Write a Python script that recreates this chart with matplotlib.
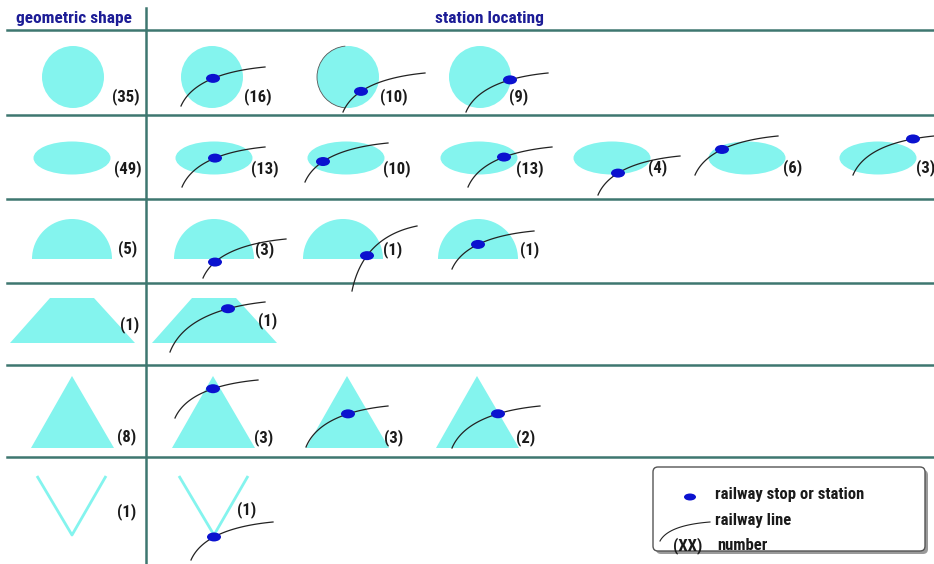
import numpy as np
import matplotlib
matplotlib.use("Agg")
import matplotlib.pyplot as plt
from matplotlib import font_manager
from matplotlib.patches import Circle, Ellipse, Wedge, Polygon, FancyBboxPatch, Arc

# ----------------------------------------------------------
# Data: counts of each geometric shape and of each station position
# ----------------------------------------------------------
shapes = ["circle", "ellipse", "half", "trapezoid", "triangle", "v"]
shape_counts = [35, 49, 5, 1, 8, 1]
station_counts = [
    [16, 10, 9],
    [13, 10, 13, 4, 6, 3],
    [3, 1, 1],
    [1],
    [3, 3, 2],
    [1],
]
header_labels = ["geometric shape", "station locating"]
legend_labels = ["railway stop or station", "railway line", "number"]

# ----------------------------------------------------------
# Layout (pixels)
# ----------------------------------------------------------
W, H = 934, 564
row_lines = [30, 115, 199, 283, 365, 457]
col_line = 146
AQUA = "#84F4EE"
BLUE = "#0B12CF"
GRID = "#3E7770"
HEAD = "#1C1C96"
BEND = 0.17

available = {f.name for f in font_manager.fontManager.ttflist}
FONT = "DejaVu Sans"
for cand in ["Liberation Sans Narrow", "Roboto Condensed", "Open Sans Condensed", "DejaVu Sans"]:
    if cand in available:
        FONT = cand
        break
plt.rcParams["font.family"] = [FONT, "DejaVu Sans"]

# centre of the geometric-shape column and of each station cell
geo_x = [73, 72, 72, 72, 72, 72]
cell_x = [
    [212, 348, 480],
    [214, 346, 479, 612, 747, 878],
    [214, 343, 478],
    [214],
    [213, 347, 477],
    [214],
]
row_cy = [77, 158, 259, 320, 412, 505]
geo_label = [(126, 97), (128, 169), (128, 249), (130, 325), (127, 437), (127, 512)]

# railway curve (start x, start y, end x, end y) and station x, per cell
rails = [
    [(181, 106, 265, 67), (343, 112, 425, 73), (466, 112, 548, 73)],
    [(182, 187, 265, 147), (305, 182, 388, 143), (468, 187, 552, 147),
     (598, 195, 680, 156), (695, 175, 778, 136), (853, 175, 934, 136)],
    [(203, 278, 286, 239), (352, 291, 417, 226), (452, 269, 534, 231)],
    [(170, 352, 265, 302)],
    [(175, 418, 258, 380), (306, 447, 388, 406), (452, 448, 540, 406)],
    [(191, 560, 273, 522)],
]
station_x = [
    [213, 361, 510],
    [215, 323, 504, 618, 722, 913],
    [215, 367, 478],
    [228],
    [213, 348, 498],
    [214],
]
label_pos = [
    [(258, 97), (394, 97), (519, 97)],
    [(265, 169), (397, 169), (530, 169), (658, 168), (793, 168), (926, 168)],
    [(265, 250), (393, 250), (530, 250)],
    [(268, 321)],
    [(264, 438), (394, 438), (526, 438)],
    [(247, 510)],
]


def draw_shape(ax, kind, cx, cy):
    if kind == "circle":
        ax.add_patch(Circle((cx, cy), 31, color=AQUA, lw=0))
    elif kind == "ellipse":
        ax.add_patch(Ellipse((cx, cy), 77, 33, color=AQUA, lw=0))
    elif kind == "half":
        ax.add_patch(Wedge((cx, cy), 40, 180, 360, color=AQUA, lw=0))
    elif kind == "trapezoid":
        pts = [(cx - 22, cy - 22), (cx + 22, cy - 22), (cx + 63, cy + 23), (cx - 62, cy + 23)]
        ax.add_patch(Polygon(pts, closed=True, color=AQUA, lw=0))
    elif kind == "triangle":
        pts = [(cx, cy - 36), (cx + 42, cy + 36), (cx - 41, cy + 36)]
        ax.add_patch(Polygon(pts, closed=True, color=AQUA, lw=0))
    elif kind == "v":
        ax.plot([cx - 35, cx, cx + 34], [cy - 29, cy + 30, cy - 29],
                color=AQUA, lw=2, solid_capstyle="butt")


def rail_curve(x0, y0, x1, y1, n=80):
    t = np.linspace(0, 1, n)
    px = x0 + BEND * (x1 - x0)
    py = y1 + BEND * (y0 - y1)
    bx = (1 - t) ** 2 * x0 + 2 * (1 - t) * t * px + t ** 2 * x1
    by = (1 - t) ** 2 * y0 + 2 * (1 - t) * t * py + t ** 2 * y1
    return bx, by


def draw_station(ax, x, y, w=14, h=9):
    ax.add_patch(Ellipse((x, y), w, h, color=BLUE, lw=0, zorder=4))


fig = plt.figure(figsize=(W / 100, H / 100), dpi=100)
ax = fig.add_axes([0, 0, 1, 1])
ax.set_xlim(0, W)
ax.set_ylim(H, 0)
ax.axis("off")

# grid
for y in row_lines:
    ax.plot([7, W], [y, y], color=GRID, lw=1.8, zorder=1)
ax.plot([col_line, col_line], [8, H], color=GRID, lw=1.8, zorder=1)

# headers
ax.text(74, 19, header_labels[0], color=HEAD, fontsize=12.5, fontweight="bold",
        ha="center", va="center")
ax.text(489, 19, header_labels[1], color=HEAD, fontsize=12.5, fontweight="bold",
        ha="center", va="center")

lab_kw = dict(fontsize=12, fontweight="bold", color="#1a1a1a", ha="center", va="center")

for r, kind in enumerate(shapes):
    cy = row_cy[r]
    draw_shape(ax, kind, geo_x[r], cy)
    ax.text(*geo_label[r], f"({shape_counts[r]})", **lab_kw)
    for c, n in enumerate(station_counts[r]):
        draw_shape(ax, kind, cell_x[r][c], cy)
        bx, by = rail_curve(*rails[r][c])
        ax.plot(bx, by, color="#222222", lw=0.9, zorder=3)
        sx = station_x[r][c]
        draw_station(ax, sx, np.interp(sx, bx, by))
        lx, ly = label_pos[r][c]
        ax.text(lx, ly, f"({n})", **lab_kw)

# faint outline on the second circle
ax.add_patch(Arc((348, 77), 62, 62, theta1=95, theta2=265, color="#555555", lw=0.6, zorder=2))

# legend box
ax.add_patch(FancyBboxPatch((656, 470), 272, 84, boxstyle="round,pad=0,rounding_size=5",
                            facecolor="#9a9a9a", edgecolor="none", zorder=5))
ax.add_patch(FancyBboxPatch((653, 467), 272, 84, boxstyle="round,pad=0,rounding_size=5",
                            facecolor="white", edgecolor="#555555", lw=1, zorder=6))
ax.add_patch(Ellipse((690, 497), 12, 7, color=BLUE, lw=0, zorder=7))
bx, by = rail_curve(660, 541, 710, 522, 40)
ax.plot(bx, by, color="#222222", lw=0.8, zorder=7)
leg_kw = dict(fontsize=12, fontweight="bold", color="#1a1a1a", va="center", zorder=7)
ax.text(715, 494, legend_labels[0], ha="left", **leg_kw)
ax.text(715, 521, legend_labels[1], ha="left", **leg_kw)
ax.text(688, 546, "(XX)", ha="center", **leg_kw)
ax.text(717, 546, legend_labels[2], ha="left", **leg_kw)

fig.savefig("out.png", dpi=100)
